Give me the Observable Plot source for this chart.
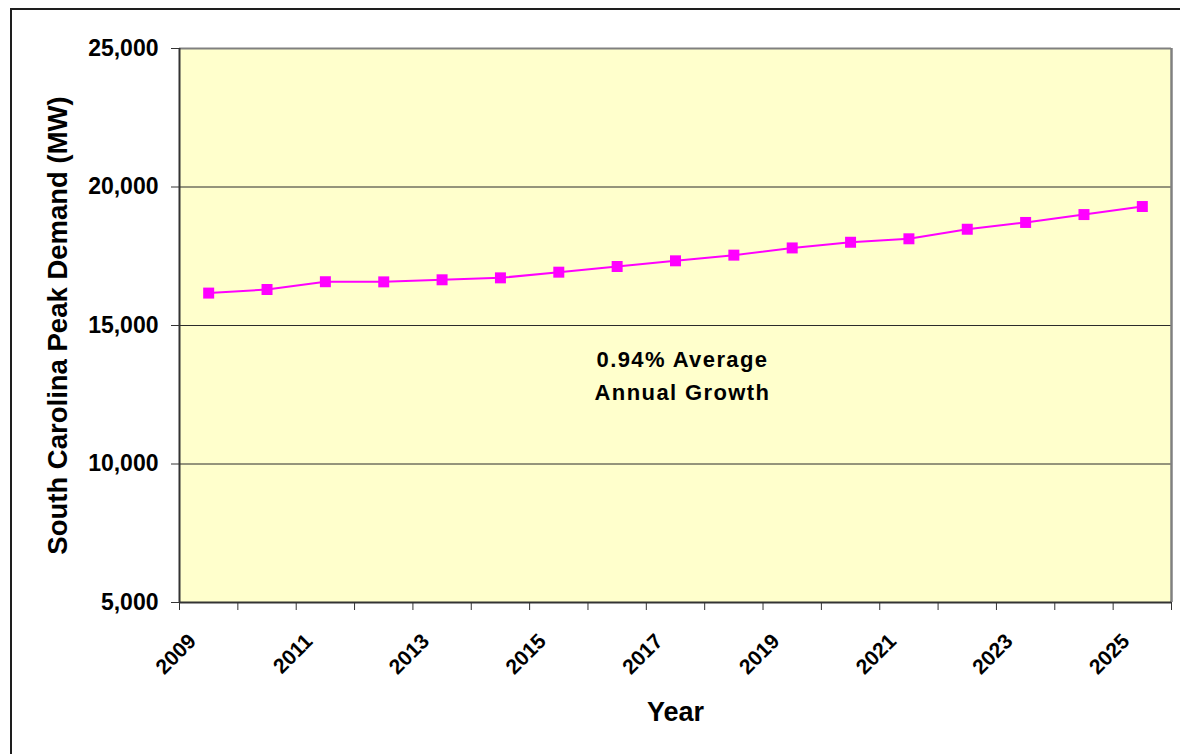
<!DOCTYPE html>
<html>
<head>
<meta charset="utf-8">
<script src="https://cdn.jsdelivr.net/npm/d3@7"></script>
<script src="https://cdn.jsdelivr.net/npm/@observablehq/plot@0.6"></script>
<style>
  html, body { margin: 0; padding: 0; background: #ffffff; }
  #chart { position: relative; width: 1180px; height: 754px; overflow: hidden; }
  #chart .border {
    position: absolute; left: 10px; top: 8px; width: 1200px; height: 800px;
    border-left: 2px solid #1e1e1e; border-top: 2px solid #1e1e1e;
    pointer-events: none;
  }
  #chart svg { position: absolute; left: 0; top: 0; }
</style>
</head>
<body>
<div id="chart"><div class="border"></div></div>
<script>
// South Carolina summer peak demand forecast, MW
const years = [2009, 2010, 2011, 2012, 2013, 2014, 2015, 2016, 2017, 2018, 2019, 2020, 2021, 2022, 2023, 2024, 2025];
const demand = [16170, 16300, 16580, 16575, 16650, 16720, 16925, 17130, 17335, 17540, 17800, 18005, 18130, 18475, 18720, 19005, 19295];
const yTicks = [5000, 10000, 15000, 20000, 25000];
const gridValues = [10000, 15000, 20000];
const labelYears = [2009, 2011, 2013, 2015, 2017, 2019, 2021, 2023, 2025];
const growthNote = "0.94% Average\nAnnual Growth";
const yTitle = "South Carolina Peak Demand (MW)";
const xTitle = "Year";

const rows = years.map((year, i) => ({year, mw: demand[i]}));
// category boundaries: one tick between each pair of years
const bounds = [years[0] - 0.5, ...years.map(y => y + 0.5)];

const font = "'Liberation Sans', Arial, Helvetica, sans-serif";

const chart = Plot.plot({
  width: 1180,
  height: 754,
  marginLeft: 179,
  marginRight: 9,
  marginTop: 48,
  marginBottom: 152,
  style: {fontFamily: font, fontWeight: "bold", color: "#000", background: "transparent"},
  x: {domain: [bounds[0], bounds[bounds.length - 1]]},
  y: {domain: [5000, 25000]},
  marks: [
    Plot.frame({fill: "#FFFFCC", stroke: "none"}),
    Plot.ruleY(gridValues, {stroke: "#2b2b2b", strokeWidth: 1}),
    // plot-area edges
    Plot.ruleY([25000], {stroke: "#808080", strokeWidth: 2}),
    Plot.ruleX([bounds[bounds.length - 1]], {stroke: "#808080", strokeWidth: 2.5}),
    Plot.ruleX([bounds[0]], {stroke: "#333333", strokeWidth: 2}),
    Plot.ruleY([5000], {stroke: "#333333", strokeWidth: 2}),
    Plot.axisY({
      ticks: yTicks, tickSize: 8, tickPadding: 13, tickFormat: d3.format(","),
      fontSize: 23, fontWeight: "bold", stroke: "#333", label: null
    }),
    Plot.axisX({ticks: bounds, tickSize: 8, tickFormat: () => "", stroke: "#333", label: null}),
    Plot.text(labelYears, {
      x: d => d, frameAnchor: "bottom", dx: -11.5, dy: 40, rotate: -45,
      textAnchor: "end", lineAnchor: "bottom",
      text: d => String(d), fontSize: 21, fontWeight: "bold", fill: "#000"
    }),
    Plot.line(rows, {x: "year", y: "mw", stroke: "#FF00FF", strokeWidth: 2}),
    Plot.dot(rows, {x: "year", y: "mw", symbol: "square", r: 6.2, fill: "#FF00FF", stroke: "none"}),
    Plot.text([growthNote], {
      x: 2017.12, y: 13280, text: d => d, lineHeight: 1.5, fontSize: 22,
      fontWeight: "bold", fill: "#000"
    }),
    Plot.text([yTitle], {
      frameAnchor: "left", dx: -121.5, rotate: -90, text: d => d,
      textAnchor: "middle", lineAnchor: "middle",
      fontSize: 27.5, fontWeight: "bold", fill: "#000"
    }),
    Plot.text([xTitle], {
      frameAnchor: "bottom", dy: 118, text: d => d,
      fontSize: 27, fontWeight: "bold", fill: "#000"
    })
  ]
});

// the growth note is set with loose letter spacing
d3.select(chart).selectAll("text")
  .filter(function () { return this.textContent.includes("Average"); })
  .attr("letter-spacing", 1.4);

document.getElementById("chart").appendChild(chart);
</script>
</body>
</html>
